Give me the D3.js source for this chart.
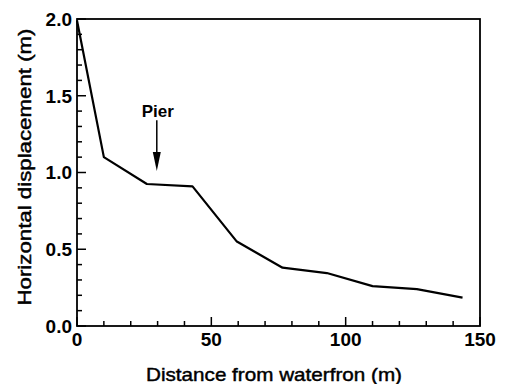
<!DOCTYPE html>
<html>
<head>
<meta charset="utf-8">
<script src="https://cdn.jsdelivr.net/npm/d3@7"></script>
<style>
  body { margin: 0; background: #fff; }
  svg { display: block; font-family: "Liberation Sans", Arial, sans-serif; }
  .tick-label { font-size: 19px; font-weight: bold; fill: #000; }
  .axis-title { font-size: 19px; fill: #000; stroke: #000; stroke-width: 0.45px; }
</style>
</head>
<body>
<svg width="506" height="384"></svg>
<script>
// distance from waterfront (m) and horizontal displacement (m)
const distance = [0, 10, 26, 43, 59.5, 76.5, 93, 110, 126.5, 143.5];
const displacement = [1.99, 1.1, 0.925, 0.91, 0.55, 0.38, 0.345, 0.26, 0.24, 0.185];

const xTicks = [0, 50, 100, 150];
const yTicks = [0.0, 0.5, 1.0, 1.5, 2.0];
const xMinor = d3.range(0, 151, 10);
const yMinor = d3.range(0, 21, 1).map(d => d / 10);

// pier annotation, in data units
const pierLabel = 'Pier';
const pierX = 29.7;
const pierTop = 1.34;
const pierTip = 1.01;

const width = 506, height = 384;
const margin = {top: 19, right: 26, bottom: 58, left: 77};

const svg = d3.select('svg');

const x = d3.scaleLinear().domain([0, 150]).range([margin.left, width - margin.right]);
const y = d3.scaleLinear().domain([0, 2]).range([height - margin.bottom, margin.top]);

const g = svg.append('g');

// frame
g.append('rect')
    .attr('x', x(0))
    .attr('y', y(2))
    .attr('width', x(150) - x(0))
    .attr('height', y(0) - y(2))
    .attr('fill', 'none')
    .attr('stroke', '#000')
    .attr('stroke-width', 1.8);

// inward ticks
g.selectAll('.xtick').data(xMinor)
    .enter().append('line')
    .attr('x1', d => x(d)).attr('x2', d => x(d))
    .attr('y1', y(0))
    .attr('y2', d => y(0) - (d % 50 === 0 ? 9 : 5))
    .attr('stroke', '#000')
    .attr('stroke-width', 1.5);

g.selectAll('.ytick').data(yMinor)
    .enter().append('line')
    .attr('y1', d => y(d)).attr('y2', d => y(d))
    .attr('x1', x(0))
    .attr('x2', d => x(0) + (Math.round(d * 10) % 5 === 0 ? 9 : 5))
    .attr('stroke', '#000')
    .attr('stroke-width', 1.5);

// tick labels
g.selectAll('.xlab').data(xTicks)
    .enter().append('text')
    .attr('class', 'tick-label')
    .attr('x', d => x(d))
    .attr('y', y(0) + 20)
    .attr('text-anchor', 'middle')
    .text(d => d);

g.selectAll('.ylab').data(yTicks)
    .enter().append('text')
    .attr('class', 'tick-label')
    .attr('x', x(0) - 5)
    .attr('y', d => y(d))
    .attr('dy', '0.36em')
    .attr('text-anchor', 'end')
    .text(d3.format('.1f'));

// axis titles
g.append('text')
    .attr('class', 'axis-title')
    .attr('x', 274)
    .attr('y', 381)
    .attr('text-anchor', 'middle')
    .attr('textLength', 256)
    .attr('lengthAdjust', 'spacingAndGlyphs')
    .text('Distance from waterfron (m)');

g.append('text')
    .attr('class', 'axis-title')
    .attr('transform', 'translate(31,167) rotate(-90)')
    .attr('text-anchor', 'middle')
    .attr('textLength', 277)
    .attr('lengthAdjust', 'spacingAndGlyphs')
    .text('Horizontal displacement (m)');

// data line
const line = d3.line()
    .x((d, i) => x(distance[i]))
    .y(d => y(d));

g.append('path')
    .attr('d', line(displacement))
    .attr('fill', 'none')
    .attr('stroke', '#000')
    .attr('stroke-width', 2.2)
    .attr('stroke-linejoin', 'round');

// pier arrow
const ax = x(pierX);
g.append('line')
    .attr('x1', ax).attr('x2', ax)
    .attr('y1', y(pierTop)).attr('y2', y(pierTip) - 10)
    .attr('stroke', '#000')
    .attr('stroke-width', 1.5);

g.append('path')
    .attr('d', `M${ax - 4},${y(pierTip) - 19} L${ax + 4},${y(pierTip) - 19} L${ax},${y(pierTip)} Z`)
    .attr('fill', '#000');

g.append('text')
    .attr('x', ax + 1)
    .attr('y', y(pierTop) - 3)
    .attr('text-anchor', 'middle')
    .style('font-size', '17px')
    .style('font-weight', 'bold')
    .text(pierLabel);
</script>
</body>
</html>
